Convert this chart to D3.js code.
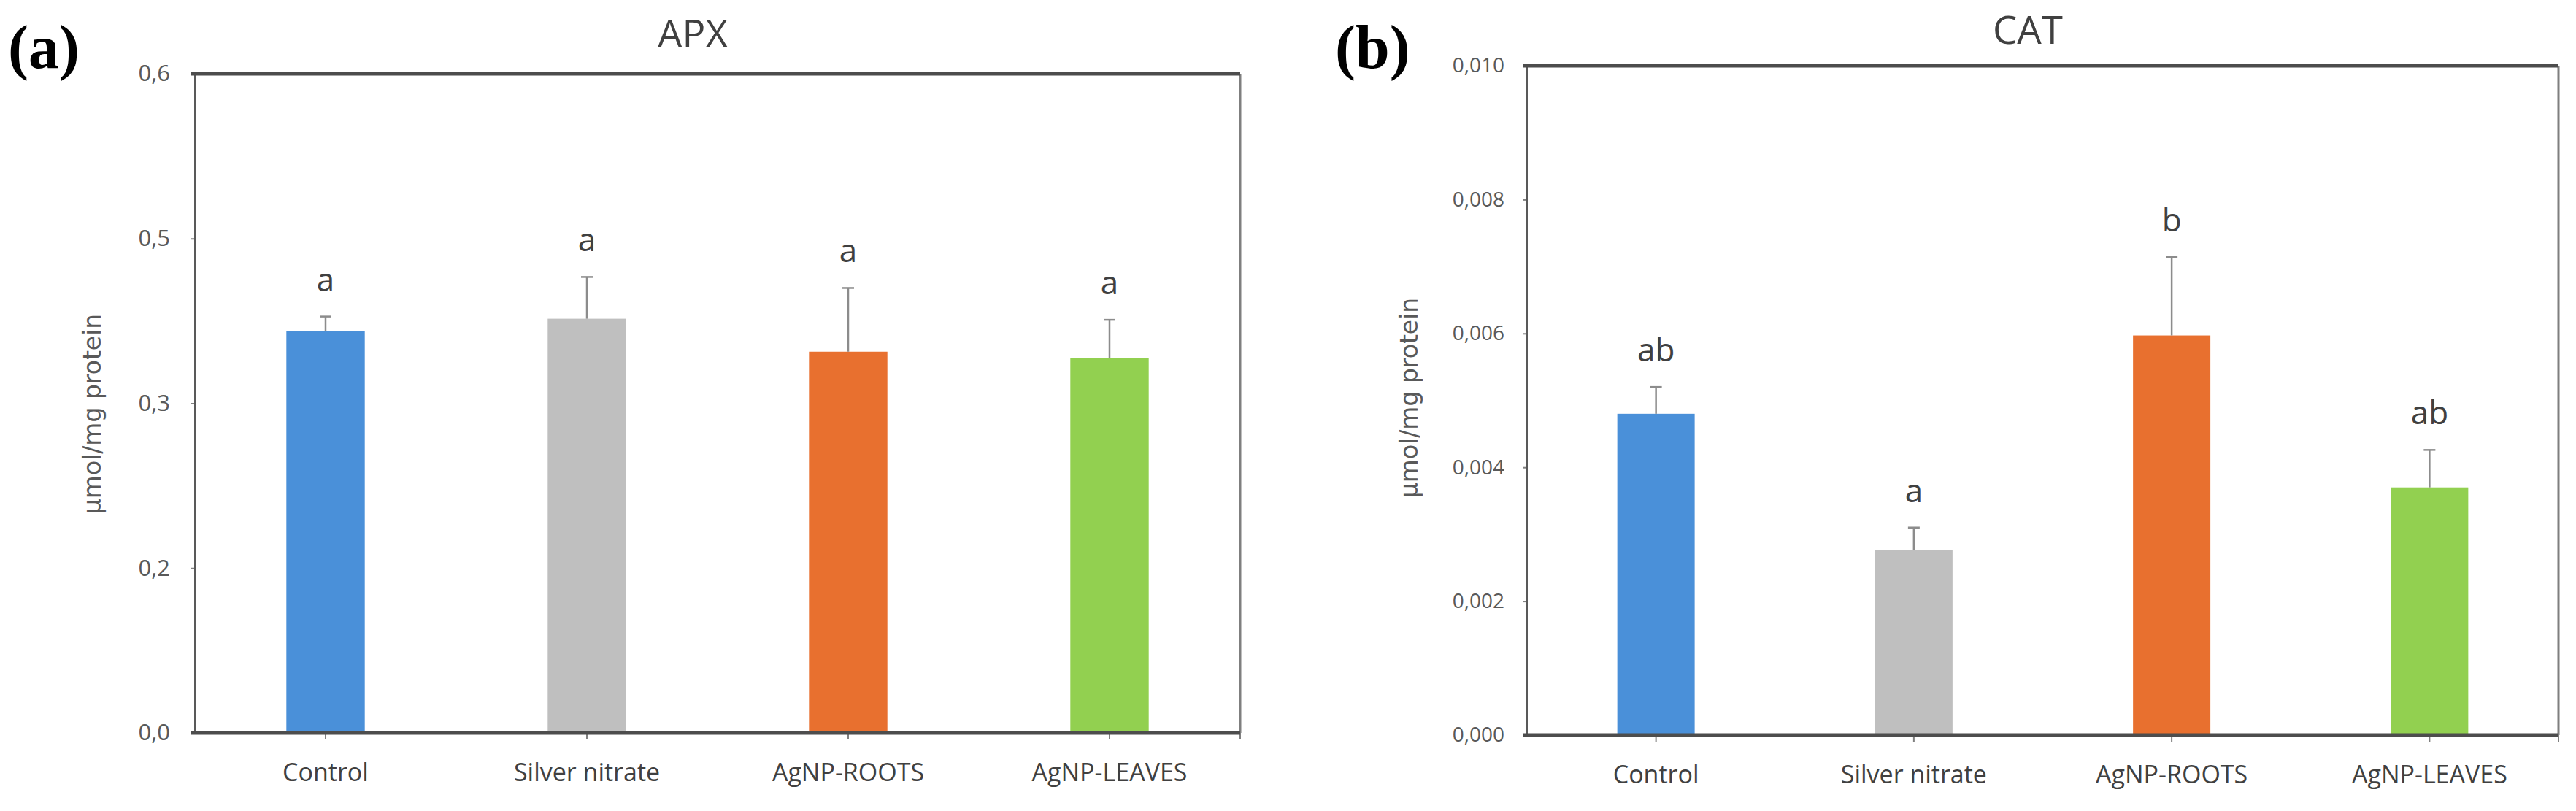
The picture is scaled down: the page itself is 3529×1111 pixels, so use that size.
<!DOCTYPE html>
<html>
<head>
<meta charset="utf-8">
<script src="https://cdn.jsdelivr.net/npm/d3@7"></script>
<style>
  html, body { margin: 0; padding: 0; background: #fff; }
  svg { display: block; }
</style>
</head>
<body>
<svg id="chart" width="3529" height="1111"></svg>
<script>
// Shared categories and colours
const categories = ["Control", "Silver nitrate", "AgNP-ROOTS", "AgNP-LEAVES"];
const barColors = ["#4A90D9", "#BFBFBF", "#E8702F", "#92D050"];

// APX panel
const apxMeans = [0.366, 0.377, 0.347, 0.341];
const apxErrors = [0.013, 0.038, 0.058, 0.035];
const apxLetters = ["a", "a", "a", "a"];
const apxTicks = [0, 0.15, 0.3, 0.45, 0.6];
const apxTickLabels = ["0,0", "0,2", "0,3", "0,5", "0,6"];

// CAT panel
const catMeans = [0.0048, 0.00276, 0.00597, 0.0037];
const catErrors = [0.0004, 0.00034, 0.00117, 0.00056];
const catLetters = ["ab", "a", "b", "ab"];
const catTicks = [0, 0.002, 0.004, 0.006, 0.008, 0.010];
const catTickLabels = ["0,000", "0,002", "0,004", "0,006", "0,008", "0,010"];

const yTitle = "\u00b5mol/mg protein";

const svg = d3.select("#chart");

/**
 * Draws one bar panel with upper error bars and significance letters
 */
function drawPanel(p) {
  const g = svg.append("g");

  const x = d3.scaleBand()
    .domain(categories)
    .range([p.left, p.right])
    .paddingInner(0.7)
    .paddingOuter(0.35);

  const y = d3.scaleLinear()
    .domain([0, p.max])
    .range([p.bottom, p.top]);

  // Panel letter and title
  g.append("text")
    .attr("x", p.tagX).attr("y", 93)
    .style("font-family", "'Liberation Serif', serif")
    .style("font-weight", "bold")
    .style("font-size", "84px")
    .style("fill", "#000")
    .text(p.tag);

  g.append("text")
    .attr("x", p.titleX).attr("y", p.titleY)
    .attr("text-anchor", "middle")
    .style("font-family", "'Open Sans', sans-serif")
    .style("font-size", "53px")
    .style("fill", "#404040")
    .text(p.title);

  // Y axis ticks and labels
  const yAxis = g.append("g")
    .attr("transform", `translate(${p.left},0)`)
    .call(d3.axisLeft(y)
      .tickValues(p.ticks)
      .tickFormat((d, i) => p.tickLabels[i])
      .tickSize(6)
      .tickPadding(p.tickPad));
  yAxis.select(".domain").remove();
  yAxis.selectAll("line").style("stroke", "#808080").style("stroke-width", 2);
  yAxis.selectAll("text")
    .style("font-family", "'Open Sans', sans-serif")
    .style("font-size", p.tickFont + "px")
    .style("fill", "#595959");

  // Y axis title
  g.append("text")
    .attr("transform", `translate(${p.yTitleX},${p.yTitleY}) rotate(-90)`)
    .attr("text-anchor", "middle")
    .attr("dominant-baseline", "central")
    .style("font-family", "'DejaVu Sans', sans-serif")
    .style("font-size", "33px")
    .style("fill", "#595959")
    .text(yTitle);

  // Bars
  g.selectAll(".bar")
    .data(categories)
    .join("rect")
    .attr("class", "bar")
    .attr("x", d => x(d))
    .attr("width", x.bandwidth())
    .attr("y", (d, i) => y(p.means[i]))
    .attr("height", (d, i) => y(0) - y(p.means[i]))
    .style("fill", (d, i) => barColors[i]);

  // Upper error bars
  const cx = d => x(d) + x.bandwidth() / 2;
  g.selectAll(".err")
    .data(categories)
    .join("line")
    .attr("class", "err")
    .attr("x1", cx).attr("x2", cx)
    .attr("y1", (d, i) => y(p.means[i]))
    .attr("y2", (d, i) => y(p.means[i] + p.errors[i]))
    .style("stroke", "#8c8c8c")
    .style("stroke-width", 2.5);

  g.selectAll(".cap")
    .data(categories)
    .join("line")
    .attr("class", "cap")
    .attr("x1", d => cx(d) - 8).attr("x2", d => cx(d) + 8)
    .attr("y1", (d, i) => y(p.means[i] + p.errors[i]))
    .attr("y2", (d, i) => y(p.means[i] + p.errors[i]))
    .style("stroke", "#8c8c8c")
    .style("stroke-width", 2.5);

  // Significance letters
  g.selectAll(".letter")
    .data(categories)
    .join("text")
    .attr("class", "letter")
    .attr("x", cx)
    .attr("y", (d, i) => y(p.means[i] + p.errors[i]) - 35)
    .attr("text-anchor", "middle")
    .style("font-family", "'Open Sans', sans-serif")
    .style("font-size", "44px")
    .style("fill", "#404040")
    .text((d, i) => p.letters[i]);

  // Frame: thin sides, heavy top and bottom
  g.append("line")
    .attr("x1", p.left).attr("x2", p.left)
    .attr("y1", p.top).attr("y2", p.bottom)
    .style("stroke", "#595959").style("stroke-width", 2);
  g.append("line")
    .attr("x1", p.right).attr("x2", p.right)
    .attr("y1", p.top).attr("y2", p.bottom)
    .style("stroke", "#7f7f7f").style("stroke-width", 3);
  g.append("line")
    .attr("x1", p.left - 6).attr("x2", p.right)
    .attr("y1", p.top).attr("y2", p.top)
    .style("stroke", "#4d4d4d").style("stroke-width", 5);

  // X axis with ticks at category centres
  const xAxis = g.append("g")
    .attr("transform", `translate(0,${p.bottom})`)
    .call(d3.axisBottom(x).tickSize(9).tickSizeOuter(0));
  xAxis.select(".domain").remove();
  xAxis.selectAll("line").style("stroke", "#808080").style("stroke-width", 2);
  xAxis.selectAll("text")
    .attr("y", 66).attr("dy", 0)
    .style("font-family", "'Open Sans', sans-serif")
    .style("font-size", "34px")
    .style("fill", "#404040");
  g.append("line")
    .attr("x1", p.right).attr("x2", p.right)
    .attr("y1", p.bottom).attr("y2", p.bottom + 9)
    .style("stroke", "#808080").style("stroke-width", 2);
  g.append("line")
    .attr("x1", p.left - 6).attr("x2", p.right)
    .attr("y1", y(0)).attr("y2", y(0))
    .style("stroke", "#4d4d4d").style("stroke-width", 5);
}

drawPanel({
  tag: "(a)", tagX: 11,
  title: "APX", titleX: 949, titleY: 65,
  left: 267, right: 1699, top: 101, bottom: 1004,
  max: 0.6, ticks: apxTicks, tickLabels: apxTickLabels,
  tickFont: 31, tickPad: 28,
  yTitleX: 126, yTitleY: 567,
  means: apxMeans, errors: apxErrors, letters: apxLetters
});

drawPanel({
  tag: "(b)", tagX: 1829,
  title: "CAT", titleX: 2778, titleY: 60,
  left: 2092, right: 3505, top: 90, bottom: 1007,
  max: 0.010, ticks: catTicks, tickLabels: catTickLabels,
  tickFont: 28, tickPad: 25,
  yTitleX: 1930, yTitleY: 545,
  means: catMeans, errors: catErrors, letters: catLetters
});
</script>
</body>
</html>
